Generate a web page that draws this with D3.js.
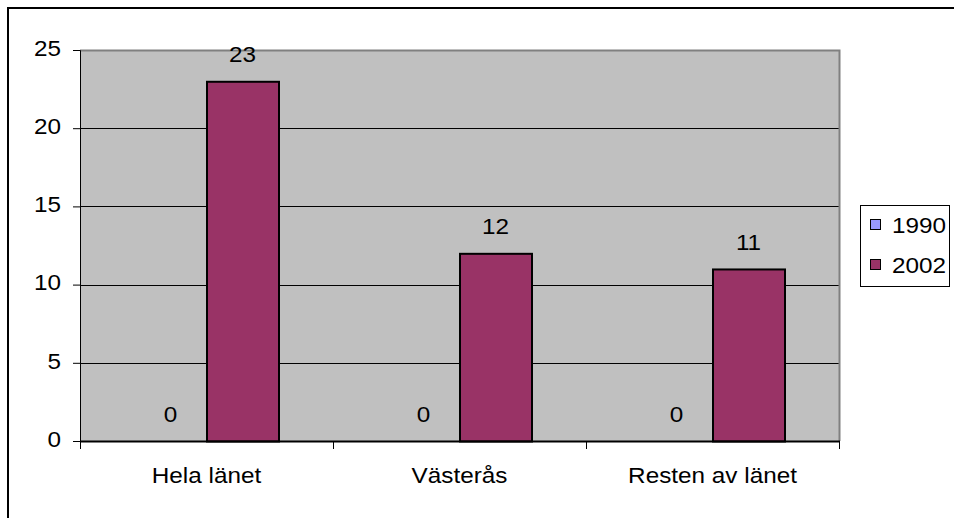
<!DOCTYPE html>
<html><head><meta charset="utf-8">
<script src="https://cdn.jsdelivr.net/npm/d3@7"></script>
<style>body{margin:0;background:#fff}svg{display:block}text{font-family:"Liberation Sans",Arial,sans-serif}</style>
</head><body>
<script>
const categories = ["Hela länet", "Västerås", "Resten av länet"];
const seriesNames = ["1990", "2002"];
const values1990 = [0, 0, 0];
const values2002 = [23, 12, 11];
const yTicks = [0, 5, 10, 15, 20, 25];
const colors = ["#9999FF", "#993366"];

(function () {
const W = 954, H = 518, FS = 21.5, SX = 1.13;
const svg = d3.select("body").append("svg").attr("width", W).attr("height", H);
svg.append("rect").attr("x", 8).attr("y", 8).attr("width", W).attr("height", H)
  .attr("fill", "#fff").attr("stroke", "#000").attr("stroke-width", 2);

const pL = 80, pR = 839, pT = 50, pB = 441;
const x = d3.scaleBand().domain(categories).range([pL, pR]).paddingInner(0).paddingOuter(0);
const x1 = d3.scaleBand().domain(seriesNames).range([0, x.bandwidth()]).paddingInner(0).paddingOuter(0.757);
const y = d3.scaleLinear().domain([0, 25]).range([pB, pT]);

function label(parent, tx, ty, anchor, txt) {
  return parent.append("text").attr("transform", `translate(${tx},${ty}) scale(${SX},1)`)
    .attr("text-anchor", anchor).attr("font-size", FS).attr("fill", "#000").text(txt);
}

svg.append("rect").attr("x", pL).attr("y", pT).attr("width", pR - pL).attr("height", pB - pT).attr("fill", "#C0C0C0");
svg.selectAll(".grid").data(yTicks.filter(t => t > 0 && t < 25)).enter().append("line")
  .attr("x1", pL).attr("x2", pR).attr("y1", d => Math.round(y(d)) + 0.5).attr("y2", d => Math.round(y(d)) + 0.5)
  .attr("stroke", "#000").attr("stroke-width", 1);
svg.append("path").attr("d", `M${pL},${pT + 0.5}H${pR + 0.5}V${pB}`).attr("fill", "none").attr("stroke", "#808080").attr("stroke-width", 2);

const series = [values1990, values2002];
const g = svg.append("g");
series.forEach((vals, si) => {
  categories.forEach((c, ci) => {
    const v = vals[ci];
    const bx = x(c) + x1(seriesNames[si]);
    if (v > 0) {
      g.append("rect").attr("x", bx + 0.5).attr("y", y(v) + 0.5)
        .attr("width", x1.bandwidth()).attr("height", y(0) - y(v))
        .attr("fill", colors[si]).attr("stroke", "#000").attr("stroke-width", 2);
    }
    label(g, bx + x1.bandwidth() / 2, y(v) - 19, "middle", v);
  });
});

const yAxis = svg.append("g").attr("transform", `translate(${pL},0)`)
  .call(d3.axisLeft(y).tickValues(yTicks).tickSize(7).tickPadding(13).tickFormat(d3.format("d")));
yAxis.select(".domain").attr("stroke", "#000").attr("stroke-width", 1);
yAxis.selectAll(".tick line").attr("stroke", "#000");
yAxis.selectAll(".tick text").attr("x", 0).attr("dy", "0.25em")
  .attr("transform", `translate(-19,0) scale(${SX},1)`)
  .attr("font-size", FS).attr("fill", "#000").attr("font-family", "Liberation Sans, Arial, sans-serif");

const xAxis = svg.append("g").attr("transform", `translate(0,${pB})`)
  .call(d3.axisBottom(x).tickSize(0).tickPadding(0));
xAxis.select(".domain").remove();
xAxis.selectAll(".tick text").attr("y", 0).attr("dy", 0)
  .attr("transform", `translate(0,42) scale(${SX},1)`)
  .attr("font-size", FS).attr("fill", "#000").attr("font-family", "Liberation Sans, Arial, sans-serif");
svg.append("line").attr("x1", pL).attr("x2", pR + 1).attr("y1", pB + 0.5).attr("y2", pB + 0.5).attr("stroke", "#000").attr("stroke-width", 2);
const xt = [pL, ...categories.map(c => x(c) + x.bandwidth())];
svg.selectAll(".xt").data(xt).enter().append("line")
  .attr("x1", d => Math.round(d) + 0.5).attr("x2", d => Math.round(d) + 0.5).attr("y1", pB).attr("y2", pB + 8).attr("stroke", "#000");

const lg = svg.append("g");
lg.append("rect").attr("x", 860.5).attr("y", 205.5).attr("width", 89).attr("height", 81).attr("fill", "#fff").attr("stroke", "#000").attr("stroke-width", 1);
seriesNames.forEach((s, i) => {
  const cy = 225 + i * 40;
  lg.append("rect").attr("x", 870.5).attr("y", cy - 5.5).attr("width", 10).attr("height", 10)
    .attr("fill", colors[i]).attr("stroke", "#000");
  label(lg, 892, cy + 8, "start", s);
});
})();
</script>
</body></html>
